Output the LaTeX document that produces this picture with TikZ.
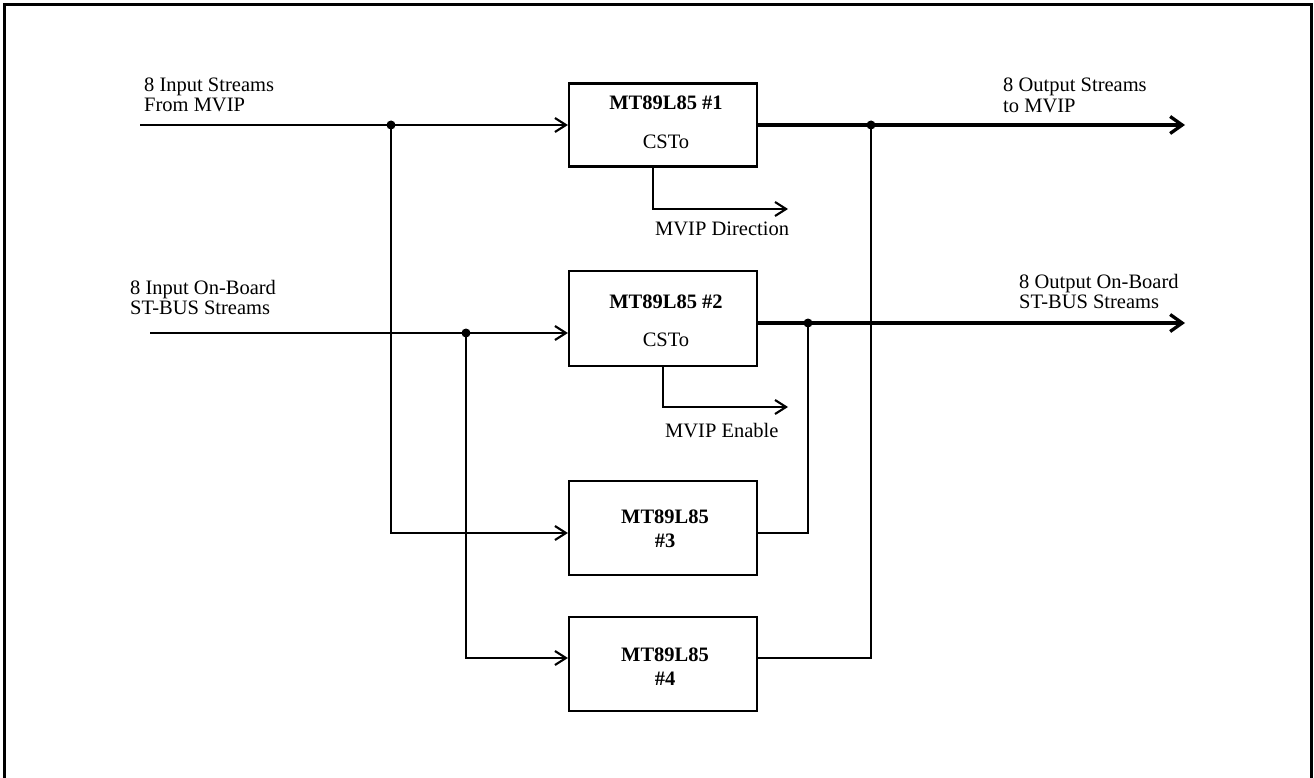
\documentclass[tikz,border=0pt]{standalone}
\usepackage{fontspec}
\setmainfont{Liberation Serif}
\usetikzlibrary{arrows.meta}
\begin{document}
\begin{tikzpicture}[x=1pt,y=-1pt,
  box/.style={draw, line width=2.2pt, minimum width=188pt, inner sep=0pt},
  lbl/.style={anchor=base west, inner sep=0pt, font=\fontsize{20.5}{22}\selectfont},
  btxt/.style={anchor=base, inner sep=0pt, font=\fontsize{20.5}{22}\selectfont\bfseries},
  ntxt/.style={anchor=base, inner sep=0pt, font=\fontsize{20.5}{22}\selectfont},
  wire/.style={line width=2.1pt},
  bus/.style={line width=3.3pt},
  inarr/.style={-{Straight Barb[length=11pt,width=14pt]}},
  outarr/.style={-{Straight Barb[length=12pt,width=17pt]}},
  jdot/.style={circle, fill, inner sep=0pt, minimum size=9pt}]
\useasboundingbox (0,0) rectangle (1314,778);
% frame
\draw[line width=3.2pt] (4.5,778) -- (4.5,4.5) -- (1311.5,4.5) -- (1311.5,778);
% boxes
\node[box, minimum height=83pt] (b1) at (663,125) {};
\node[box, minimum height=95pt] (b2) at (663,318.5) {};
\node[box, minimum height=94pt] (b3) at (663,528) {};
\node[box, minimum height=94pt] (b4) at (663,664) {};
% box texts
\node[btxt] (t1a) at (666,110) {MT89L85 \#1};
\node[ntxt] (t1b) at (666,149) {CSTo};
\node[btxt] (t2a) at (666,308) {MT89L85 \#2};
\node[ntxt] (t2b) at (666,346) {CSTo};
\node[btxt] (t3a) at (665,523) {MT89L85};
\node[btxt] (t3b) at (665,547) {\#3};
\node[btxt] (t4a) at (665,661) {MT89L85};
\node[btxt] (t4b) at (665,685) {\#4};
% labels
\node[lbl] (l1a) at (144,92) {8 Input Streams};
\node[lbl] (l1b) at (144,112) {From MVIP};
\node[lbl] (l2a) at (130,294) {8 Input On-Board};
\node[lbl] (l2b) at (130,314) {ST-BUS Streams};
\node[lbl] (l3a) at (1003,92) {8 Output Streams};
\node[lbl] (l3b) at (1003,113) {to MVIP};
\node[lbl] (l4a) at (1019,288) {8 Output On-Board};
\node[lbl] (l4b) at (1019,308) {ST-BUS Streams};
\node[lbl] (l5) at (655,235) {MVIP Direction};
\node[lbl] (l6) at (665,437) {MVIP Enable};
% end coordinates
\coordinate (i1) at (140,125);
\coordinate (i2) at (150,333);
\coordinate (o1) at (1185,125);
\coordinate (o2) at (1185,323);
\coordinate (dirc) at (788,209);
\coordinate (enc) at (788,407);
% junction dots
\node[jdot] (d1) at (391,125) {};
\node[jdot] (d2) at (466,333) {};
\node[jdot] (d3) at (871,125) {};
\node[jdot] (d4) at (808,323) {};
% connectors
\draw[wire,inarr] (i1) -- (b1.west);
\draw[wire,inarr] (i2) -- ([yshift=-14.5pt]b2.west);
\draw[wire,inarr] (d1.center) |- ([yshift=-5pt]b3.west);
\draw[wire,inarr] (d2.center) |- ([yshift=6pt]b4.west);
\draw[bus,outarr] (b1.east) -- (o1);
\draw[bus,outarr] ([yshift=-4.5pt]b2.east) -- (o2);
\draw[wire] ([yshift=-5pt]b3.east) -| (d4.center);
\draw[wire] ([yshift=6pt]b4.east) -| (d3.center);
\draw[wire,inarr] ([xshift=-10pt]b1.south) |- (dirc);
\draw[wire,inarr] (b2.south) |- (enc);
\end{tikzpicture}
\end{document}
